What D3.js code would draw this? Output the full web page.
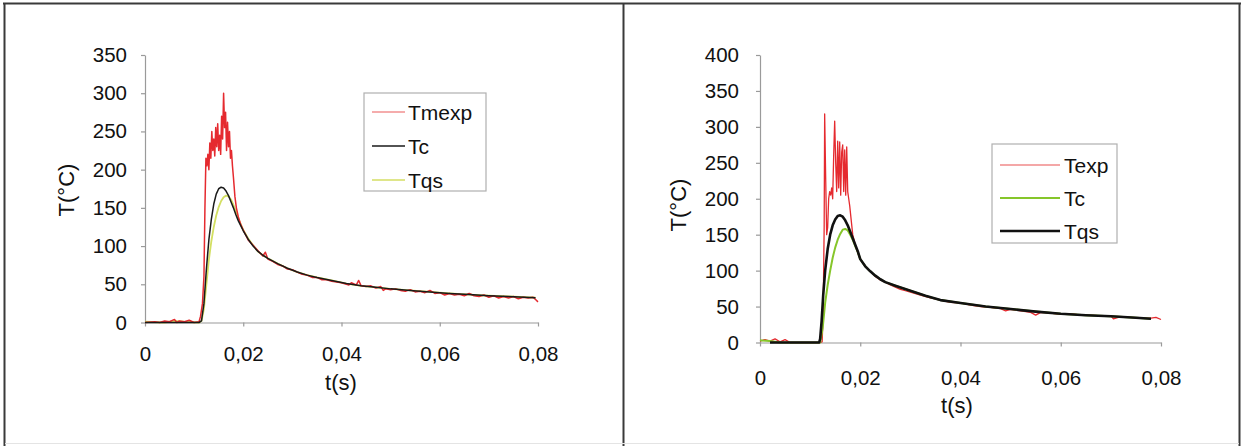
<!DOCTYPE html>
<html>
<head>
<meta charset="utf-8">
<script src="https://cdnjs.cloudflare.com/ajax/libs/d3/7.8.5/d3.min.js"></script>
<style>
html,body{margin:0;padding:0;background:#fff;}
svg{display:block;font-family:"Liberation Sans",Arial,sans-serif;}
</style>
</head>
<body>
<svg id="c" width="1242" height="446"></svg>
<script>
// ---------- DATA ----------
const xTicks = [0, 0.02, 0.04, 0.06, 0.08];
const xTickLabels = ["0", "0,02", "0,04", "0,06", "0,08"];
const yTicksLeft = [0, 50, 100, 150, 200, 250, 300, 350];
const yTicksRight = [0, 50, 100, 150, 200, 250, 300, 350, 400];

// Left chart
const leftExpT = [0,0.002,0.003,0.004,0.005,0.006,0.0065,0.007,0.008,0.009,0.010,0.011,0.0113,0.0117,0.012,0.0122,0.0124,0.0126,0.0128,0.013,0.0132,0.0134,0.0136,0.0138,0.014,0.0142,0.0144,0.0146,0.0148,0.015,0.0152,0.0154,0.0156,0.0158,0.016,0.0162,0.0164,0.0166,0.0168,0.017,0.0172,0.0174,0.0176,0.0178,0.018,0.0183,0.0186,0.019,0.0195,0.020,0.021,0.022,0.023,0.024,0.0245,0.025,0.026,0.027,0.028,0.029,0.030,0.031,0.032,0.033,0.034,0.035,0.036,0.037,0.038,0.039,0.040,0.041,0.0415,0.042,0.043,0.0435,0.044,0.045,0.046,0.047,0.048,0.0485,0.049,0.050,0.051,0.052,0.053,0.054,0.055,0.056,0.057,0.058,0.059,0.060,0.061,0.062,0.063,0.064,0.065,0.066,0.067,0.068,0.069,0.070,0.071,0.072,0.073,0.074,0.075,0.076,0.077,0.078,0.079,0.0795,0.080];
const leftExpV = [0,1,0,2,1,4,0,2,1,3,0,1,8,25,60,150,215,205,220,200,235,215,250,225,240,218,255,230,260,225,245,220,270,240,300,255,275,225,262,230,250,215,225,205,190,165,150,138,128,121,108,101,94,87,92,83,80,76,74,70,69,66,63,62,59,59,56,56,54,53,52,50,49,52,49,55,48,47,48,45,47,42,44,43,44,42,41,43,40,41,39,42,38,39,36,38,36,37,35,38,35,34,36,33,35,32,34,32,34,31,33,32,33,30,27];

const leftTcT = [0,0.003,0.006,0.009,0.011,0.0115,0.012,0.0125,0.013,0.0135,0.014,0.0145,0.015,0.0155,0.016,0.0165,0.017,0.0175,0.018,0.0185,0.019,0.020,0.021,0.022,0.023,0.024,0.025,0.027,0.029,0.031,0.033,0.035,0.038,0.041,0.044,0.047,0.050,0.054,0.058,0.062,0.066,0.070,0.074,0.0795];
const leftTcV = [0,0,0,0,0,2,25,70,108,135,155,168,175,177,176,172,166,158,150,141,133,120,109,100,93,88,84,77,71,66,62,59,55,51,48,46,44,42,40,38,36.5,35,34,32.5];

const leftTqsT = [0,0.004,0.006,0.008,0.011,0.0115,0.012,0.0125,0.013,0.0135,0.014,0.0145,0.015,0.0155,0.016,0.0165,0.017,0.0175,0.018,0.0185,0.019,0.020,0.021,0.022,0.023,0.024,0.025,0.027,0.029,0.031,0.033,0.035,0.038,0.041,0.044,0.047,0.050,0.054,0.058,0.062,0.066,0.070,0.074,0.0795];
const leftTqsV = [1,0,2,1,0,2,18,50,82,106,125,140,151,159,164,166,165,161,154,145,136,121,110,101,93,88,84,77,71,66,62,59,55,51,48,46,44,42,40,38,36.5,35,34,32.5];

// Right chart
const rightExpT = [0,0.001,0.002,0.003,0.004,0.005,0.006,0.008,0.010,0.012,0.0124,0.0126,0.0128,0.0129,0.0131,0.0133,0.0135,0.0137,0.0139,0.0141,0.0143,0.0145,0.0147,0.0149,0.0151,0.0153,0.0155,0.0157,0.0159,0.0161,0.0163,0.0165,0.0167,0.0169,0.0171,0.0173,0.0175,0.0177,0.0179,0.0182,0.0185,0.019,0.0195,0.020,0.021,0.022,0.023,0.024,0.025,0.026,0.027,0.028,0.029,0.030,0.032,0.034,0.036,0.038,0.040,0.042,0.044,0.046,0.048,0.049,0.050,0.052,0.054,0.055,0.056,0.058,0.060,0.062,0.064,0.066,0.068,0.070,0.0705,0.072,0.074,0.076,0.078,0.079,0.080];
const rightExpV = [2,4,2,5,1,4,0,0,0,0,1,40,160,318,230,150,160,200,210,205,215,200,260,308,250,210,280,215,279,205,265,275,210,268,205,272,210,200,190,170,150,136,125,116,106,99,92,87,84,80,77,74,72,70,66,62,59,56,55,52,50,49,47,44,46,44,42,38,42,41,39,40,38,38,37,37,33,36,35,34,34,35,32];

const rightTcT = [0,0.002,0.004,0.012,0.0125,0.013,0.0135,0.014,0.0145,0.015,0.0155,0.016,0.0165,0.017,0.0175,0.018,0.0185,0.019,0.0195,0.020,0.021,0.022,0.023,0.024,0.025,0.027,0.030,0.033,0.036,0.040,0.045,0.050,0.055,0.060,0.065,0.070,0.075,0.078];
const rightTcV = [3,2,0,0,20,55,80,100,118,132,143,151,157,158,156,150,143,134,126,116,106,99,93,88,84,79,72,65,59,55,50,46.5,43,40,38,36.5,34.5,33];

const rightTqsT = [0.002,0.006,0.010,0.0118,0.012,0.0123,0.0126,0.013,0.0135,0.014,0.0145,0.015,0.0155,0.016,0.0165,0.017,0.0175,0.018,0.0185,0.019,0.0195,0.020,0.021,0.022,0.023,0.024,0.025,0.027,0.030,0.033,0.036,0.040,0.045,0.050,0.055,0.060,0.065,0.070,0.075,0.078];
const rightTqsV = [0,0,0,0,5,30,65,100,130,150,163,171,176,177,175,170,163,154,145,136,127,116,106,99,93,88,84,79,72,65,59,55,50,46.5,43,40,38,36.5,34.5,33];

const leftSeriesNames = ["Tmexp", "Tc", "Tqs"];
const rightSeriesNames = ["Texp", "Tc", "Tqs"];

// ---------- DRAW ----------
const svg = d3.select("#c");
const FONT = '"Liberation Sans",Arial,sans-serif';

// frame
svg.append("line").attr("x1",3).attr("x2",1241).attr("y1",3.5).attr("y2",3.5).attr("stroke","#3a3a3a").attr("stroke-width",2);
svg.append("line").attr("x1",4.5).attr("x2",4.5).attr("y1",3).attr("y2",446).attr("stroke","#3a3a3a").attr("stroke-width",2);
svg.append("line").attr("x1",623.5).attr("x2",623.5).attr("y1",3).attr("y2",446).attr("stroke","#3a3a3a").attr("stroke-width",2);
svg.append("line").attr("x1",1239.5).attr("x2",1239.5).attr("y1",3).attr("y2",446).attr("stroke","#3a3a3a").attr("stroke-width",2);
svg.append("line").attr("x1",5).attr("x2",1239).attr("y1",443.5).attr("y2",443.5).attr("stroke","#e4e4e4").attr("stroke-width",1);

function zip(t, v){ return t.map((d,i)=>[d, v[i]]); }

function drawChart(cfg){
  const x = d3.scaleLinear().domain([0,0.08]).range([cfg.x0, cfg.x1]);
  const y = d3.scaleLinear().domain([0,cfg.yMax]).range([cfg.y0, cfg.y1]);
  const g = svg.append("g");

  const yAxis = d3.axisLeft(y).tickValues(cfg.yTicks).tickSize(4).tickSizeOuter(0).tickPadding(cfg.yPad);
  const ya = g.append("g").attr("transform",`translate(${cfg.x0},0)`).call(yAxis);
  const xAxis = d3.axisBottom(x).tickValues(xTicks).tickFormat((d,i)=>xTickLabels[i]).tickSize(4).tickSizeOuter(0).tickPadding(cfg.xPad);
  const xa = g.append("g").attr("transform",`translate(0,${cfg.y0})`).call(xAxis);
  [ya, xa].forEach(a=>{
    a.select(".domain").attr("stroke","#9a9a9a").attr("stroke-width",1.2);
    a.selectAll(".tick line").attr("stroke","#9a9a9a").attr("stroke-width",1.2);
    a.selectAll("text").attr("fill","#111").style("font-size","20.5px").style("font-family",FONT);
  });

  const line = d3.line().x(d=>x(d[0])).y(d=>y(d[1]));
  cfg.series.forEach(s=>{
    g.append("path").datum(s.data).attr("d",line).attr("fill","none")
      .attr("stroke",s.color).attr("stroke-width",s.width).attr("stroke-linejoin","round");
  });

  g.append("text").attr("transform",`translate(${cfg.yLabelX},${cfg.yLabelY}) rotate(-90)`)
    .attr("text-anchor","middle").attr("dominant-baseline","central")
    .style("font-size","22px").attr("fill","#111").text("T(°C)");
  g.append("text").attr("x",cfg.xLabelX).attr("y",cfg.xLabelY)
    .attr("text-anchor","middle").attr("dominant-baseline","central")
    .style("font-size","22px").attr("fill","#111").text("t(s)");

  // legend
  const L = cfg.legend;
  g.append("rect").attr("x",L.x).attr("y",L.y).attr("width",L.w).attr("height",L.h)
    .attr("fill","#fff").attr("stroke","#b0b0b0").attr("stroke-width",1.2);
  cfg.series.slice().sort((a,b)=>a.order-b.order).forEach((s,i)=>{
    const yy = L.y + L.first + i*L.step;
    g.append("line").attr("x1",L.x+L.lx0).attr("x2",L.x+L.lx1).attr("y1",yy).attr("y2",yy)
      .attr("stroke",s.legendColor||s.color).attr("stroke-width",s.legendWidth||s.width);
    g.append("text").attr("x",L.x+L.tx).attr("y",yy).attr("dominant-baseline","central")
      .style("font-size","21px").attr("fill","#111").text(s.name);
  });
}

drawChart({
  x0:145, x1:538, y0:322.5, y1:55, yMax:350, yTicks:yTicksLeft, yPad:14, xPad:20,
  yLabelX:66, yLabelY:190, xLabelX:341, xLabelY:382,
  legend:{x:364, y:93, w:122, h:98, first:19, step:34, lx0:8, lx1:41, tx:44},
  series:[
    {name:leftSeriesNames[2], order:2, data:zip(leftTqsT,leftTqsV), color:"#d3df62", width:1.8, legendColor:"#dfe68a"},
    {name:leftSeriesNames[0], order:0, data:zip(leftExpT,leftExpV), color:"#e52a2f", width:1.5, legendColor:"#f29090"},
    {name:leftSeriesNames[1], order:1, data:zip(leftTcT,leftTcV), color:"#1a1a1a", width:1.5},
  ]
});

drawChart({
  x0:760, x1:1161, y0:342.5, y1:55, yMax:400, yTicks:yTicksRight, yPad:17, xPad:24,
  yLabelX:678, yLabelY:205, xLabelX:957, xLabelY:405,
  legend:{x:992, y:144, w:125, h:99, first:21, step:33, lx0:8, lx1:68, tx:72},
  series:[
    {name:rightSeriesNames[0], order:0, data:zip(rightExpT,rightExpV), color:"#e52a2f", width:1.3, legendColor:"#f08a8a"},
    {name:rightSeriesNames[1], order:1, data:zip(rightTcT,rightTcV), color:"#86c62a", width:2},
    {name:rightSeriesNames[2], order:2, data:zip(rightTqsT,rightTqsV), color:"#111", width:2.6},
  ]
});
</script>
</body>
</html>
